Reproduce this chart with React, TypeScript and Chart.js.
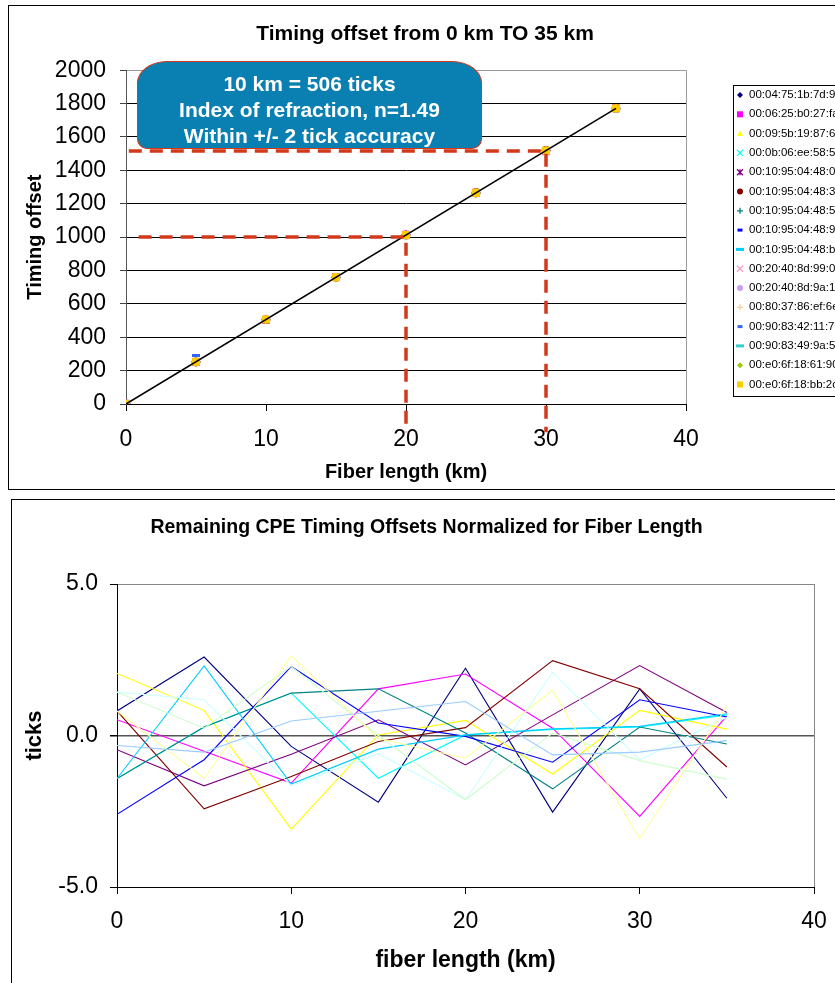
import React, { useEffect, useRef } from "react";
import { Chart, registerables } from "chart.js";

Chart.register(...registerables);

const FONT = "'Liberation Sans', Arial, sans-serif";

// ---------- Top chart data ----------
const topTitle = "Timing offset from 0 km TO 35 km";
const topXTitle = "Fiber length (km)";
const topYTitle = "Timing offset";
const kmPoints = [0, 5, 10, 15, 20, 25, 30, 35];

const seriesLabels = [
  "00:04:75:1b:7d:9c",
  "00:06:25:b0:27:fa",
  "00:09:5b:19:87:60",
  "00:0b:06:ee:58:5a",
  "00:10:95:04:48:0b",
  "00:10:95:04:48:31",
  "00:10:95:04:48:57",
  "00:10:95:04:48:90",
  "00:10:95:04:48:b6",
  "00:20:40:8d:99:08",
  "00:20:40:8d:9a:14",
  "00:80:37:86:ef:6e",
  "00:90:83:42:11:76",
  "00:90:83:49:9a:5f",
  "00:e0:6f:18:61:90",
  "00:e0:6f:18:bb:2c",
];
const markerStyles = [
  "rectRot", "rect", "triangle", "crossRot", "star", "circle", "cross", "dash",
  "line", "crossRot", "circle", "cross", "dash", "line", "rectRot", "rect",
];
const markerColors = [
  "#000080", "#FF00FF", "#FFFF00", "#00FFFF", "#800080", "#800000", "#008080", "#0000FF",
  "#00CCFF", "#FF99CC", "#CC99FF", "#FFCC99", "#3366FF", "#33CCCC", "#99CC00", "#FFCC00",
];

const s01 = [1, 256, 506, 757, 1014, 1262, 1520, 1769];
const s02 = [1, 252, 504, 761, 1014, 1265, 1515, 1772];
const s03 = [2, 254, 503, 759, 1012, 1264, 1519, 1771];
const s04 = [-1, 253, 507, 758, 1012, 1265, 1518, 1772];
const s05 = [0, 251, 505, 760, 1011, 1266, 1520, 1772];
const s06 = [1, 251, 505, 759, 1012, 1267, 1520, 1770];
const s07 = [-1, 253, 507, 761, 1012, 1263, 1518, 1771];
const s08 = [-3, 252, 508, 759, 1012, 1264, 1519, 1772];
const s09 = [-1, 255, 504, 759, 1012, 1265, 1518, 1772];
const s10 = [1, 254, 504, 758, 1010, 1267, 1517, 1772];
const s11 = [1, 253, 508, 759, 1010, 1265, 1517, 1770];
const s12 = [1, 252, 509, 759, 1011, 1266, 1515, 1772];
const s13 = [0, 291, 506, 760, 1013, 1264, 1517, 1771];
const s14 = [0, 253, 505, 758, 1013, 1265, 1518, 1770];
const s15 = [0, 254, 507, 760, 1011, 1266, 1517, 1770];
const s16 = [0, 253, 506, 759, 1012, 1265, 1518, 1771];
const topSeries = [s01, s02, s03, s04, s05, s06, s07, s08, s09, s10, s11, s12, s13, s14, s15, s16];

const trendKm = [0, 35];
const trendTicks = [0, 1771];
const guide20Km = [0.9, 20, 20];
const guide20Ticks = [1000, 1000, -170];
const guide30Km = [0.2, 30, 30];
const guide30Ticks = [1516, 1516, -170];

const calloutLines = ["10 km = 506 ticks", "Index of refraction, n=1.49", "Within +/- 2 tick accuracy"];

// ---------- Bottom chart data ----------
const bottomTitle = "Remaining CPE Timing Offsets Normalized for Fiber Length";
const bottomXTitle = "fiber length (km)";
const bottomYTitle = "ticks";

const r01 = [0.81, 2.59, -0.36, -2.2, 2.22, -2.53, 1.54, -2.07];
const r02 = [0.52, -0.52, -1.57, 1.54, 2.03, 0.24, -2.67, 0.65];
const r03 = [2.05, 0.83, -3.09, 0.02, 0.5, -1.27, 0.83, 0.21];
const r04 = [-1.42, 0.28, 1.4, -1.41, 0.02, 0.2, 0.28, 0.68];
const r05 = [-0.47, -1.66, -0.62, 0.52, -0.97, 0.68, 2.31, 0.76];
const r06 = [0.81, -2.42, -1.35, -0.2, 0.26, 2.47, 1.54, -1.04];
const r07 = [-1.42, 0.28, 1.4, 1.54, 0.08, -1.76, 0.28, -0.28];
const r08 = [-2.6, -0.8, 2.28, 0.41, -0.03, -0.88, 1.18, 0.61];
const r09 = [-1.42, 2.3, -1.6, -0.45, 0.02, 0.22, 0.3, 0.72];
const r10 = [1.43, 1.18, -1.65, -0.6, -2.12, 2.09, -0.8, 0.6];
const r11 = [1.43, 0.24, 2.28, 0.0, -2.12, 0.08, -0.83, -1.44];
const r12 = [0.81, -1.41, 2.63, -0.1, -0.75, 1.49, -3.4, 0.96];
const r13 = [-0.33, -0.55, 0.48, 0.8, 1.12, -0.64, -0.55, -0.17];
const residualSeries = [r01, r02, r03, r04, r05, r06, r07, r08, r09, r10, r11, r12, r13];
const residualColors = [
  "#000080", "#FF00FF", "#FFFF00", "#00FFFF", "#800080", "#800000", "#008080", "#0000FF",
  "#00CCFF", "#CCFFFF", "#CCFFCC", "#FFFF99", "#99CCFF",
];

function drawMarker(ctx: CanvasRenderingContext2D, style: string, x: number, y: number, r: number, color: string) {
  ctx.save();
  ctx.fillStyle = color;
  ctx.strokeStyle = color;
  ctx.lineWidth = 1.3;
  ctx.beginPath();
  switch (style) {
    case "rectRot":
      ctx.moveTo(x, y - r); ctx.lineTo(x + r, y); ctx.lineTo(x, y + r); ctx.lineTo(x - r, y); ctx.closePath(); ctx.fill();
      break;
    case "rect":
      ctx.fillRect(x - r, y - r, 2 * r, 2 * r);
      break;
    case "triangle":
      ctx.moveTo(x, y - r); ctx.lineTo(x + r, y + r * 0.8); ctx.lineTo(x - r, y + r * 0.8); ctx.closePath(); ctx.fill();
      break;
    case "crossRot":
      ctx.moveTo(x - r, y - r); ctx.lineTo(x + r, y + r); ctx.moveTo(x + r, y - r); ctx.lineTo(x - r, y + r); ctx.stroke();
      break;
    case "star":
      ctx.moveTo(x - r, y - r); ctx.lineTo(x + r, y + r); ctx.moveTo(x + r, y - r); ctx.lineTo(x - r, y + r);
      ctx.moveTo(x, y - r); ctx.lineTo(x, y + r); ctx.stroke();
      break;
    case "circle":
      ctx.arc(x, y, r, 0, Math.PI * 2); ctx.fill();
      break;
    case "cross":
      ctx.moveTo(x - r, y); ctx.lineTo(x + r, y); ctx.moveTo(x, y - r); ctx.lineTo(x, y + r); ctx.stroke();
      break;
    case "dash":
      ctx.lineWidth = 3; ctx.moveTo(x - 2.5, y); ctx.lineTo(x + 2.5, y); ctx.stroke();
      break;
    default:
      ctx.lineWidth = 3; ctx.moveTo(x - r - 1, y); ctx.lineTo(x + r + 1, y); ctx.stroke();
  }
  ctx.restore();
}

const boxLegendPlugin = {
  id: "boxLegend",
  afterDraw(chart: any, _args: any, opts: any) {
    const ctx: CanvasRenderingContext2D = chart.ctx;
    ctx.save();
    ctx.fillStyle = "#fff";
    ctx.fillRect(opts.x, opts.y, opts.w, opts.h);
    ctx.strokeStyle = "#000";
    ctx.lineWidth = 1;
    ctx.strokeRect(opts.x + 0.5, opts.y + 0.5, opts.w, opts.h);
    ctx.font = `${opts.fontSize}px ${FONT}`;
    ctx.textBaseline = "middle";
    ctx.textAlign = "left";
    seriesLabels.forEach((lab, i) => {
      const cy = opts.firstY + i * opts.step;
      drawMarker(ctx, markerStyles[i], opts.markerX, cy, 3, markerColors[i]);
      ctx.fillStyle = "#000";
      ctx.fillText(lab, opts.textX, cy);
    });
    ctx.restore();
  },
};

const chartPointStyle = (s: string) => (s === "dash" ? "line" : s);

export default function App() {
  const topRef = useRef<HTMLCanvasElement>(null);
  const botRef = useRef<HTMLCanvasElement>(null);

  useEffect(() => {
    const toXY = (xs: number[], ys: number[]) => xs.map((x, i) => ({ x, y: ys[i] }));
    const tickFont = { family: FONT, size: 23 };
    const transparent = "rgba(0,0,0,0)";

    const topDatasets: any[] = topSeries.map((vals, i) => ({
      label: seriesLabels[i],
      data: toXY(kmPoints, vals),
      showLine: false,
      pointStyle: chartPointStyle(markerStyles[i]),
      pointRadius: markerStyles[i] === "rect" ? 5 : 4,
      pointBackgroundColor: markerColors[i],
      pointBorderColor: markerColors[i],
      pointBorderWidth: markerStyles[i] === "dash" || markerStyles[i] === "line" ? 3 : 1,
      order: 40 - i,
    }));
    topDatasets.push({
      label: "trend",
      data: toXY(trendKm, trendTicks),
      showLine: true,
      borderColor: "#000",
      borderWidth: 1.6,
      pointRadius: 0,
      order: 1,
    });
    [
      [guide20Km, guide20Ticks],
      [guide30Km, guide30Ticks],
    ].forEach(([xs, ys]) =>
      topDatasets.push({
        label: "guide",
        data: toXY(xs, ys),
        showLine: true,
        borderColor: "#D2381A",
        borderWidth: 3.5,
        borderDash: [13, 8],
        pointRadius: 0,
        clip: false,
        order: 0,
      })
    );

    const top = new Chart(topRef.current!, {
      type: "scatter",
      data: { datasets: topDatasets },
      options: {
        animation: false,
        responsive: false,
        events: [],
        layout: { padding: 0 },
        plugins: {
          legend: { display: false },
          tooltip: { enabled: false },
          title: {
            display: true,
            text: topTitle,
            color: "#000",
            font: { family: FONT, size: 21, weight: "bold" },
            padding: { top: 16, bottom: 23 },
          },
          boxLegend: { x: 724, y: 79, w: 130, h: 311, markerX: 731, textX: 740, firstY: 89, step: 19.3, fontSize: 11.5 },
        } as any,
        scales: {
          x: {
            type: "linear",
            min: 0,
            max: 40,
            ticks: { stepSize: 10, font: tickFont, color: "#000", padding: 15 },
            grid: {
              drawOnChartArea: true,
              color: (c: any) => (c.tick && c.tick.value === 40 ? "#9a9a9a" : transparent),
              tickColor: "#000",
              tickLength: 7,
            },
            border: { color: "#000", width: 1 },
            title: { display: true, text: topXTitle, color: "#000", font: { family: FONT, size: 20, weight: "bold" }, padding: { top: 0, bottom: 5 } },
            afterFit: (s: any) => { s.height = 85; },
          },
          y: {
            type: "linear",
            min: 0,
            max: 2000,
            ticks: { stepSize: 200, font: tickFont, color: "#000", padding: 14, callback: (v: any) => String(v) },
            grid: {
              color: (c: any) => (c.tick && c.tick.value === 2000 ? "#9a9a9a" : "#000"),
              tickColor: "#404040",
              tickLength: 6,
            },
            border: { color: "#555", width: 1 },
            title: { display: true, text: topYTitle, color: "#000", font: { family: FONT, size: 20, weight: "bold" }, padding: { top: 14, bottom: 0 } },
            afterFit: (s: any) => { s.width = 117; },
          },
          yRight: {
            type: "linear",
            position: "right",
            display: true,
            ticks: { display: false },
            grid: { display: false },
            border: { display: false },
            afterFit: (s: any) => { s.width = 155; },
          },
        },
      } as any,
      plugins: [boxLegendPlugin],
    });

    const bottom = new Chart(botRef.current!, {
      type: "scatter",
      data: {
        datasets: residualSeries.map((vals, i) => ({
          label: seriesLabels[i],
          data: toXY(kmPoints, vals),
          showLine: true,
          borderColor: residualColors[i],
          borderWidth: 1.1,
          pointRadius: 0,
          order: 40 - i,
        })),
      },
      options: {
        animation: false,
        responsive: false,
        events: [],
        layout: { padding: 0 },
        plugins: {
          legend: { display: false },
          tooltip: { enabled: false },
          title: {
            display: true,
            text: bottomTitle,
            color: "#000",
            font: { family: FONT, size: 19.5, weight: "bold" },
            padding: { top: 16, bottom: 44.6 },
          },
        },
        scales: {
          x: {
            type: "linear",
            min: 0,
            max: 40,
            ticks: { stepSize: 10, font: tickFont, color: "#000", padding: 14 },
            grid: {
              drawOnChartArea: true,
              color: (c: any) => (c.tick && c.tick.value === 40 ? "#888" : transparent),
              tickColor: "#000",
              tickLength: 7,
            },
            border: { color: "#000", width: 1 },
            title: { display: true, text: bottomXTitle, color: "#000", font: { family: FONT, size: 23, weight: "bold" }, padding: { top: 0, bottom: 9 } },
            afterFit: (s: any) => { s.height = 96; },
          },
          y: {
            type: "linear",
            min: -5,
            max: 5,
            ticks: { stepSize: 5, font: tickFont, color: "#000", padding: 12, callback: (v: any) => Number(v).toFixed(1) },
            grid: {
              color: (c: any) => {
                if (!c.tick) return transparent;
                if (c.tick.value === 0) return "#555";
                if (c.tick.value === 5) return "#888";
                return transparent;
              },
              lineWidth: (c: any) => (c.tick && c.tick.value === 0 ? 1.5 : 1),
              tickColor: "#000",
              tickLength: 7,
            },
            border: { color: "#000", width: 1 },
            title: { display: true, text: bottomYTitle, color: "#000", font: { family: FONT, size: 22, weight: "bold" }, padding: { top: 10, bottom: 0 } },
            afterFit: (s: any) => { s.width = 105; },
          },
          yRight: {
            type: "linear",
            position: "right",
            display: true,
            ticks: { display: false },
            grid: { display: false },
            border: { display: false },
            afterFit: (s: any) => { s.width = 27; },
          },
        },
      } as any,
    });

    return () => {
      top.destroy();
      bottom.destroy();
    };
  }, []);

  return (
    <div style={{ position: "fixed", left: 0, top: 0, width: 835, height: 983, overflow: "hidden", background: "#fff", fontFamily: FONT }}>
      <div style={{ position: "absolute", left: 8, top: 5, width: 850, height: 483, border: "1px solid #000", background: "#fff" }}>
        <canvas ref={topRef} width={832} height={483} style={{ display: "block" }} />
        <div
          style={{
            position: "absolute",
            left: 128,
            top: 55,
            width: 345,
            height: 88,
            boxSizing: "border-box",
            background: "#0a80b2",
            border: "1px solid #D2381A",
            borderRadius: "30px 30px 10px 10px / 22px 22px 10px 10px",
            color: "#fff",
            fontWeight: "bold",
            fontSize: 21,
            lineHeight: "26px",
            textAlign: "center",
            paddingTop: 9,
          }}
        >
          {calloutLines.map((l) => (
            <div key={l}>{l}</div>
          ))}
        </div>
      </div>
      <div style={{ position: "absolute", left: 11, top: 499, width: 850, height: 500, border: "1px solid #000", background: "#fff" }}>
        <canvas ref={botRef} width={829} height={483} style={{ display: "block" }} />
      </div>
    </div>
  );
}
